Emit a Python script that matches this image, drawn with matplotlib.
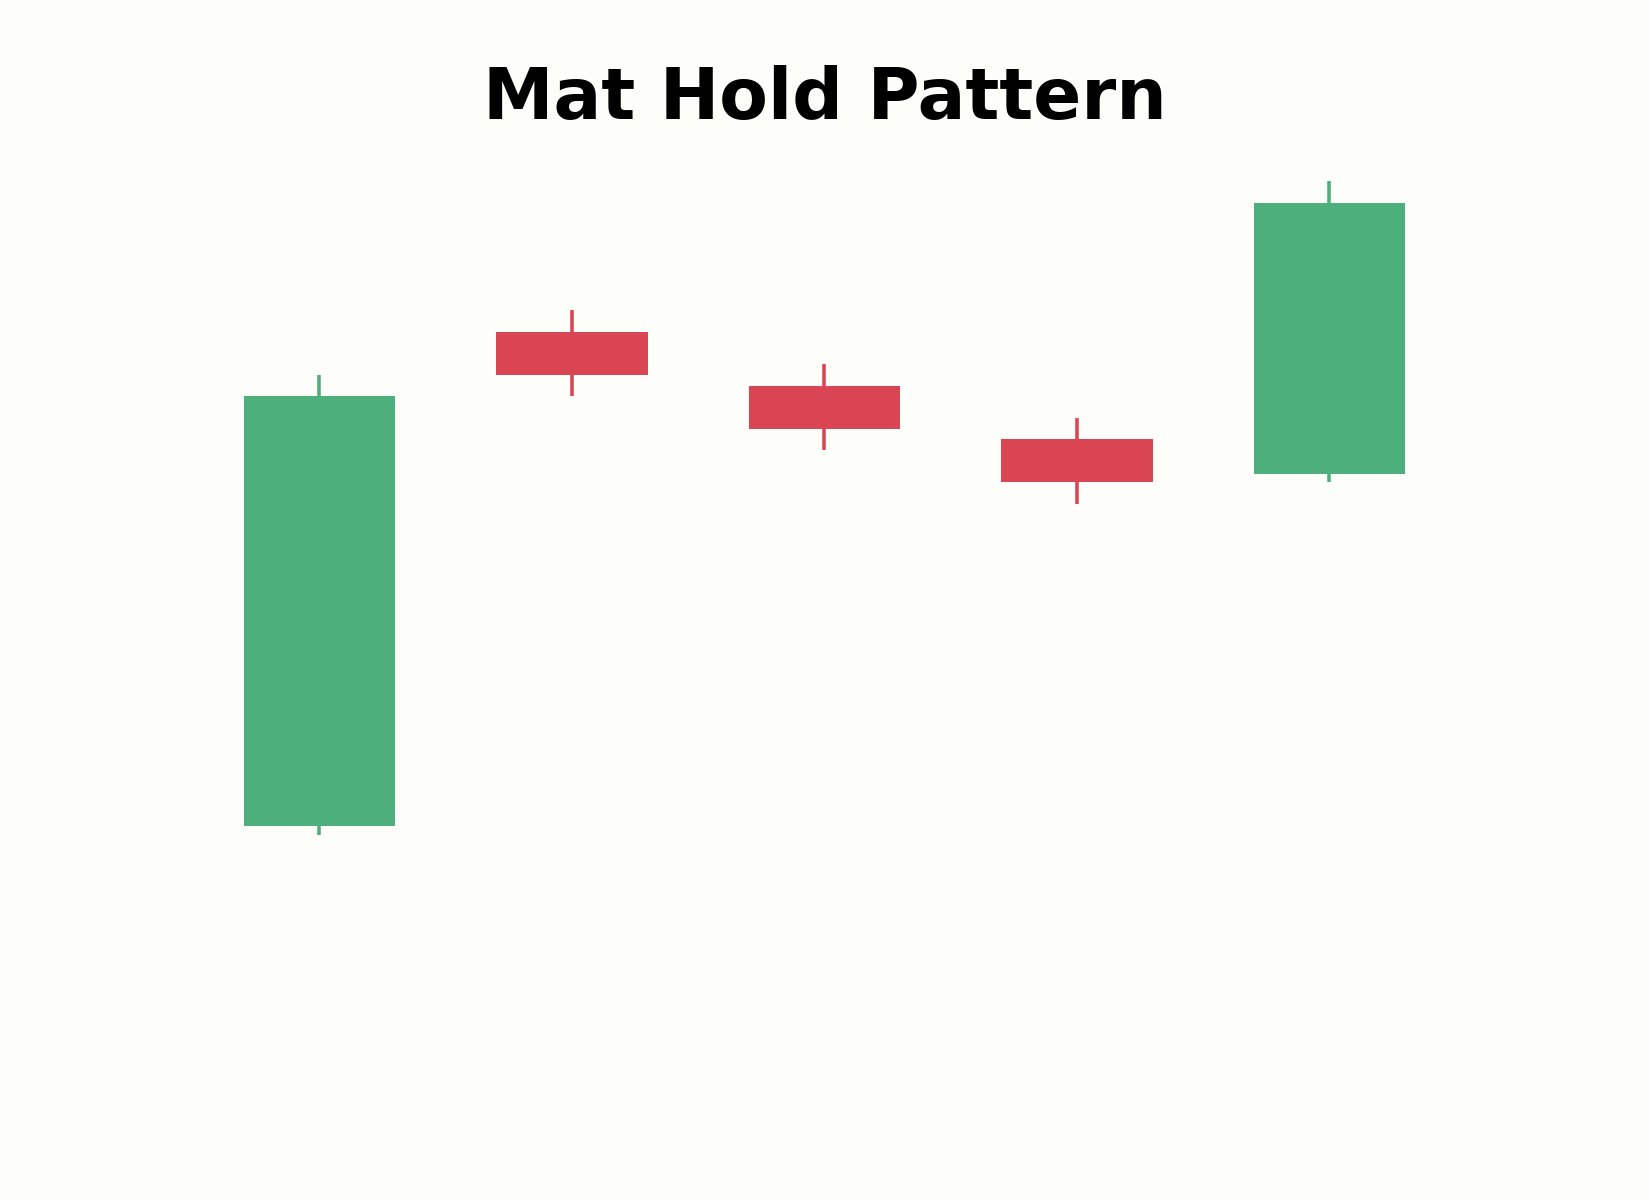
import matplotlib.pyplot as plt
import numpy as np

# Mat Hold: one long bull candle, three small bear candles, one long bull candle
days = [0, 1, 2, 3, 4]
opens = [100.0, 111.5, 110.25, 109.0, 108.2]
highs = [110.5, 112.0, 110.75, 109.5, 115.0]
lows = [99.8, 110.0, 108.75, 107.5, 108.0]
closes = [110.0, 110.5, 109.25, 108.0, 114.5]

up_color = "#4DAF7C"
down_color = "#D94552"
bg = "#FDFDF9"

fig = plt.figure(figsize=(11, 8), dpi=150, facecolor=bg)
ax = fig.add_axes([0, 0, 1, 1])
ax.set_facecolor(bg)

for x, o, h, l, c in zip(days, opens, highs, lows, closes):
    col = up_color if c >= o else down_color
    ax.vlines(x, l, h, color=col, linewidth=1.7, zorder=1)
    ax.bar(x, abs(c - o), bottom=min(o, c), width=0.6, color=col, zorder=2)

# limits picked so the candles land where they do in the reference
ax.set_xlim(-1.265, 5.27)
ax.set_ylim(91.31, 119.22)
ax.axis("off")

fig.text(0.5, 1 - 119.3 / 1200, "Mat Hold Pattern", ha="center", va="baseline",
         fontsize=34, fontweight="bold")

fig.savefig("out.png", dpi=150, facecolor=bg)
